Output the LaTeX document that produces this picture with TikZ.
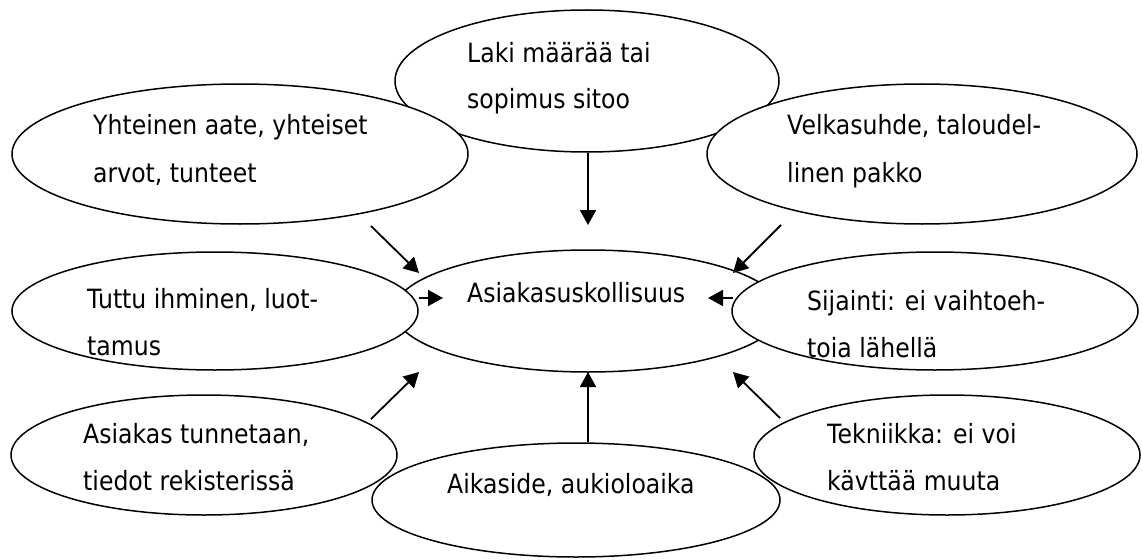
\documentclass[tikz,border=0pt]{standalone}
\usepackage{fontspec}
\setmainfont{DejaVu Sans}[FakeStretch=0.89]
\usetikzlibrary{shapes.geometric,arrows.meta}
\tikzset{
  bubble/.style={ellipse,draw=black,fill=white,line width=1.5pt,inner sep=0pt},
  lbl/.style={anchor=base west,inner sep=0pt,font=\fontsize{26.5pt}{32pt}\selectfont},
  arr/.style={line width=1.8pt,-{Triangle[length=15pt,width=16pt]}}
}
\begin{document}
\begin{tikzpicture}[x=1pt,y=-1pt]
\useasboundingbox (0,0) rectangle (1142,559);
% ellipses
\node[bubble,minimum width=384pt,minimum height=142pt] (laki) at (587,81) {};
\node[bubble,minimum width=388pt,minimum height=122pt] (center) at (588,311) {};
\node[bubble,minimum width=456pt,minimum height=140pt] (yht) at (240,154) {};
\node[bubble,minimum width=430pt,minimum height=140pt] (velka) at (922,154) {};
\node[bubble,minimum width=406pt,minimum height=118pt] (tuttu) at (215,311) {};
\node[bubble,minimum width=406pt,minimum height=118pt] (sij) at (935,311) {};
\node[bubble,minimum width=386pt,minimum height=120pt] (asiak) at (204,455) {};
\node[bubble,minimum width=386pt,minimum height=120pt] (tekn) at (947,455) {};
\node[bubble,minimum width=408pt,minimum height=114pt] (aika) at (576,500) {};
% texts
\node[lbl] (tl1) at (467,63) {Laki määrää tai};
\node[lbl] (tl2) at (467,109) {sopimus sitoo};
\node[lbl] (ty1) at (93,135) {Yhteinen aate, yhteiset};
\node[lbl] (ty2) at (93,182) {arvot, tunteet};
\node[lbl] (tv1) at (787,135) {Velkasuhde, taloudel-};
\node[lbl] (tv2) at (787,182) {linen pakko};
\node[lbl] (tc) at (467,302) {Asiakasuskollisuus};
\node[lbl] (tt1) at (87,308) {Tuttu ihminen, luot-};
\node[lbl] (tt2) at (87,355) {tamus};
\node[lbl] (ts1) at (807,310) {Sijainti: ei vaihtoeh-};
\node[lbl] (ts2) at (807,357) {toia lähellä};
\node[lbl] (ta1) at (83,443) {Asiakas tunnetaan,};
\node[lbl] (ta2) at (83,490) {tiedot rekisterissä};
\node[lbl] (tk1) at (827,443) {Tekniikka: ei voi};
\node[lbl] (tk2) at (827,490) {kävttää muuta};
\node[lbl] (tai) at (447,493) {Aikaside, aukioloaika};
% arrow end points
\coordinate (e1) at (588,225);
\coordinate (s2) at (371,226); \coordinate (e2) at (419,273);
\coordinate (s3) at (781,225); \coordinate (e3) at (733,273);
\coordinate (s4) at (419,298); \coordinate (e4) at (443,298);
\coordinate (s5) at (733,298); \coordinate (e5) at (708,298);
\coordinate (s6) at (371,419); \coordinate (e6) at (419,372);
\coordinate (e7) at (588,372);
\coordinate (s8) at (780,418); \coordinate (e8) at (733,372);
% arrows
\draw[arr] (laki.south -| e1) -- (e1);
\draw[arr] (s2) -- (e2);
\draw[arr] (s3) -- (e3);
\draw[arr] (s4) -- (e4);
\draw[arr] (s5) -- (e5);
\draw[arr] (s6) -- (e6);
\draw[arr] (aika.north -| e7) -- (e7);
\draw[arr] (s8) -- (e8);
\end{tikzpicture}
\end{document}
